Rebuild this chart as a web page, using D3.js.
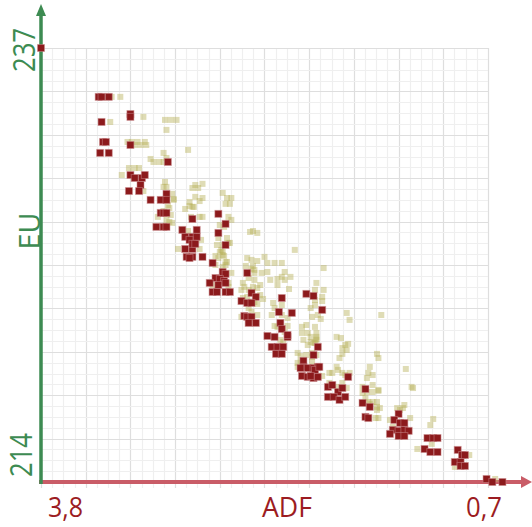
<!DOCTYPE html>
<html><head><meta charset="utf-8">
<script src="https://cdn.jsdelivr.net/npm/d3@7"></script>
<style>html,body{margin:0;padding:0;background:#fff;}svg{display:block;}</style>
</head><body>
<svg id="c" width="532" height="527"></svg>
<script>
// ---- data (ADF, EU) ----
const xDomain = [3.8, 0.7];
const yDomain = [214, 237];
const xTickLabels = ["3,8", "0,7"];
const yTickLabels = ["214", "237"];
const xTitle = "ADF";
const yTitle = "EU";

const redPoints = [
[3.80,237.00],[3.40,234.41],[3.38,234.41],[3.33,234.41],[3.18,233.50],[3.18,233.35],[3.38,233.08],
[3.37,232.02],[3.35,232.02],[3.18,231.86],[3.39,231.44],[3.33,231.44],[2.92,230.96],
[3.18,230.27],[3.15,230.11],[3.10,230.11],[3.08,230.27],[3.11,229.74],[3.19,229.42],[3.12,229.42],
[2.93,229.27],[3.04,228.95],[2.97,228.95],[2.93,228.95],[2.97,228.26],[2.95,228.26],[2.93,228.26],
[3.00,227.52],[2.95,227.52],[2.93,227.52],[2.57,228.21],[2.75,227.94],[2.52,227.68],
[2.82,227.36],[2.72,227.36],[2.75,226.99],[2.72,226.99],[2.80,226.99],[2.77,226.83],[2.57,227.20],
[2.52,226.56],[2.80,226.35],[2.75,226.35],[2.75,226.62],[2.73,226.62],[2.75,225.93],[2.79,225.93],
[2.68,225.93],[2.77,225.87],[2.61,225.61],[2.37,225.08],[2.54,225.13],[2.52,225.03],
[2.59,224.81],[2.56,224.76],[2.53,224.65],[2.63,224.55],[2.57,224.44],[2.52,224.55],
[2.61,224.07],[2.58,224.07],[2.52,224.07],[2.49,224.07],[2.34,224.02],[2.31,223.81],
[1.96,223.97],[1.91,223.86],[2.41,223.59],[2.37,223.49],[2.34,223.49],[2.13,223.75],
[2.39,222.80],[2.37,222.75],[2.34,222.75],[2.36,222.43],[2.31,222.43],[1.85,223.12],
[2.15,223.01],[2.06,222.96],[2.14,222.43],[2.13,222.11],[2.23,221.74],[2.18,221.69],
[2.09,221.69],[2.09,221.79],[2.20,221.16],[2.16,221.16],[2.12,221.16],[2.17,220.79],[2.13,220.79],
[1.88,221.16],[1.91,220.73],[1.98,220.42],[1.98,220.10],[2.00,220.04],[1.95,220.04],[1.91,220.04],
[1.88,220.10],[1.90,219.94],[1.87,220.10],[1.99,219.62],[1.95,219.57],[1.91,219.51],[1.88,219.57],
[1.93,219.62],[1.67,219.57],[1.81,219.04],[1.78,219.14],[1.74,218.77],[1.71,218.98],
[1.81,218.51],[1.77,218.51],[1.73,218.35],[1.69,218.51],[1.55,218.93],[1.57,218.19],[1.52,217.98],
[1.55,217.45],[1.53,217.39],[1.32,217.61],[1.35,217.29],[1.31,217.13],[1.28,217.13],
[1.36,216.76],[1.32,216.71],[1.28,216.76],[1.25,216.71],[1.38,216.55],[1.32,216.44],[1.28,216.44],
[1.12,216.33],[1.08,216.33],[1.05,216.33],[1.14,215.75],[1.10,215.59],[1.05,215.59],
[0.91,215.70],[0.88,215.43],[0.86,215.43],[0.93,215.06],[0.89,215.06],[0.89,214.85],[0.86,214.85],
[0.71,214.16],[0.67,214.00],[0.60,214.00]
];

const olivePoints = [
[3.31,234.41],[3.25,234.41],[3.09,233.35],[2.94,233.19],[2.90,233.19],[2.86,233.19],[2.93,232.66],
[3.32,233.08],[3.20,232.02],[3.17,232.02],[3.13,232.02],[3.08,232.02],[3.15,231.86],[3.11,231.86],
[3.07,231.86],[2.95,231.44],[2.78,231.60],[3.04,231.12],[3.02,230.96],[2.98,230.96],[2.95,230.96],
[2.93,231.17],[3.19,230.64],[3.15,230.64],[3.12,230.64],[3.24,230.27],[2.94,229.90],[2.95,229.64],
[2.93,229.64],[3.09,229.42],[2.88,229.00],[2.75,229.58],[2.71,229.58],[2.73,229.74],[2.68,229.80],
[2.89,229.27],[2.88,228.95],[2.92,228.68],[2.73,229.11],[2.68,229.05],[2.54,229.32],[2.51,229.05],
[2.48,229.05],[2.52,228.74],[2.49,228.74],[2.77,228.84],[2.70,228.89],[2.75,228.58],[2.74,228.58],
[2.80,228.47],[2.77,228.63],[2.95,228.36],[2.91,228.52],[2.99,228.05],[2.93,228.05],[2.90,228.15],
[2.93,227.73],[2.91,227.78],[2.89,227.73],[2.76,228.05],[2.70,228.05],[2.68,228.05],[2.50,228.05],
[2.48,227.89],[2.56,227.62],[2.53,227.52],[2.78,227.30],[2.69,226.83],[2.57,226.93],[2.51,226.93],
[2.50,226.67],[2.70,226.35],[2.85,226.35],[2.55,226.30],[2.54,226.19],[2.53,225.98],[2.59,225.98],
[2.57,225.87],[2.35,227.25],[2.33,227.30],[2.30,227.20],[2.52,225.66],[2.51,225.66],[2.37,225.87],
[2.34,225.77],[2.30,225.71],[2.25,225.93],[2.34,225.29],[2.32,225.08],[2.27,225.08],[2.23,225.13],
[2.52,225.50],[2.48,225.08],[2.61,224.44],[2.50,224.34],[2.39,224.34],[2.33,224.34],[2.28,224.44],
[2.58,226.56],[2.54,226.56],[2.49,226.67],[2.56,226.19],[2.54,226.03],[2.04,226.30],[2.23,225.61],
[2.59,225.50],[2.54,225.40],[2.38,225.45],[2.33,225.45],[2.32,225.24],[2.18,225.61],[2.13,225.61],
[2.11,225.13],[2.50,224.55],[2.40,224.55],[2.36,224.81],[2.32,224.71],[2.21,224.71],[2.16,224.76],
[2.13,224.87],[2.11,224.71],[2.07,224.87],[2.16,224.44],[2.08,224.23],[2.41,224.18],[2.36,224.18],
[2.30,224.28],[1.89,224.55],[1.90,224.18],[1.90,223.65],[2.37,223.81],[2.40,223.75],[2.28,223.91],
[2.26,223.70],[2.32,223.54],[2.30,223.44],[2.19,223.49],[2.13,223.38],[2.41,222.75],[2.30,222.85],
[2.34,223.01],[2.36,223.22],[1.93,223.22],[1.90,223.38],[1.88,222.85],[1.92,222.75],[2.18,223.22],
[2.13,222.85],[2.09,222.69],[1.99,222.22],[1.96,222.32],[1.95,221.90],[1.90,222.22],[2.20,222.85],
[2.18,222.27],[2.16,222.22],[2.09,222.27],[2.11,221.95],[2.12,221.42],[2.09,221.63],[2.14,221.53],
[1.89,221.58],[1.93,221.42],[1.90,221.37],[2.02,220.84],[2.00,220.36],[1.92,220.63],[1.96,220.73],
[2.02,220.31],[2.02,220.10],[1.84,225.34],[1.84,224.18],[1.85,223.81],[1.85,223.59],[1.68,222.96],
[1.66,222.59],[1.44,222.85],[1.86,222.64],[1.75,221.69],[1.72,221.63],[1.99,221.90],[1.93,221.69],
[1.89,221.90],[1.89,221.69],[1.98,221.53],[1.95,221.26],[1.91,221.37],[1.89,221.53],[2.00,220.68],
[1.92,220.84],[1.89,220.73],[1.98,220.20],[1.92,220.36],[1.92,220.10],[1.85,219.62],[1.78,219.78],
[1.69,221.26],[1.67,221.32],[1.71,221.10],[1.68,221.00],[1.71,220.79],[1.73,220.57],[1.75,220.10],
[1.74,219.94],[1.71,219.78],[1.80,219.78],[1.69,219.67],[1.66,219.78],[1.47,220.79],[1.46,220.57],
[1.52,220.10],[1.53,219.78],[1.50,219.67],[1.54,219.51],[1.27,219.99],[1.80,219.25],[1.75,219.04],
[1.68,218.98],[1.71,219.25],[1.57,219.04],[1.54,218.77],[1.50,218.77],[1.46,218.83],[1.57,218.72],
[1.55,218.45],[1.53,218.24],[1.52,218.14],[1.47,218.24],[1.45,217.92],[1.47,217.82],[1.48,217.39],
[1.38,217.29],[1.29,217.92],[1.28,218.08],[1.31,217.82],[1.36,216.92],[1.50,219.14],[1.46,218.88],
[1.23,219.04],[1.47,217.98],[1.50,218.24],[1.46,217.39],[1.33,217.92],[1.24,217.39],[1.30,216.71],
[1.10,217.02],[1.08,217.34],[1.09,216.02],[1.19,215.75],[0.83,215.43],[0.93,214.80],[0.65,214.16],
[1.22,218.98]
];

// ---- drawing ----
const svg = d3.select("#c");
const pLeft = 41, pRight = 488, pTop = 48, pBottom = 482;
const x = d3.scaleLinear().domain(xDomain).range([pLeft, pRight]);
const y = d3.scaleLinear().domain(yDomain).range([pBottom, pTop]);

const green = "#3d8b52", red = "#9c1c22";
const font = "'Open Sans', 'Noto Sans', sans-serif";

// grid
const nx = 40, ny = 40;
const gx = d3.range(0, nx + 1).map(i => ({v: xDomain[0] + i * (xDomain[1] - xDomain[0]) / nx, major: i % 4 === 0}));
const gy = d3.range(0, ny + 1).map(i => ({v: yDomain[0] + i * (yDomain[1] - yDomain[0]) / ny, major: i % 4 === 0}));
const grid = svg.append("g");
grid.selectAll("line.gx").data(gx).join("line")
  .attr("x1", d => Math.round(x(d.v)) + 0.5).attr("x2", d => Math.round(x(d.v)) + 0.5)
  .attr("y1", pTop).attr("y2", pBottom + 6)
  .attr("stroke", d => d.major ? "#dedede" : "#efefef").attr("stroke-width", 1.2);
grid.selectAll("line.gy").data(gy).join("line")
  .attr("y1", d => Math.round(y(d.v)) + 0.5).attr("y2", d => Math.round(y(d.v)) + 0.5)
  .attr("x1", pLeft).attr("x2", pRight)
  .attr("stroke", d => d.major ? "#dedede" : "#efefef").attr("stroke-width", 1.2);

// axes
svg.append("line").attr("x1", pLeft - 2).attr("x2", 522).attr("y1", pBottom).attr("y2", pBottom)
  .attr("stroke", "#c95c67").attr("stroke-width", 4);
svg.append("path").attr("d", `M521,476 L532,482 L521,488 Z`).attr("fill", "#c95c67");
svg.append("line").attr("x1", pLeft).attr("x2", pLeft).attr("y1", pBottom + 2).attr("y2", 14)
  .attr("stroke", green).attr("stroke-width", 3.5);
svg.append("path").attr("d", `M36,16 L41,4 L46,16 Z`).attr("fill", green);

// points
svg.append("g").selectAll("rect").data(olivePoints).join("rect")
  .attr("x", d => x(d[0]) - 3).attr("y", d => y(d[1]) - 3)
  .attr("width", 6).attr("height", 6)
  .attr("fill", "#b9b25a").attr("fill-opacity", 0.45);

svg.append("g").selectAll("rect").data(redPoints).join("rect")
  .attr("x", d => x(d[0]) - 3.5).attr("y", d => y(d[1]) - 3.5)
  .attr("width", 7).attr("height", 7)
  .attr("fill", "#8c1a1c")
  .attr("stroke", "#c9898b").attr("stroke-opacity", 0.5).attr("stroke-width", 1);

// labels
function label(txt, tx, ty, rot, anchor, color, len, size) {
  svg.append("text").text(txt)
    .attr("transform", `translate(${tx},${ty}) rotate(${rot})`)
    .attr("text-anchor", anchor)
    .attr("font-family", font).attr("font-size", size)
    .attr("fill", color)
    .attr("textLength", len).attr("lengthAdjust", "spacingAndGlyphs");
}
label(yTickLabels[1], 35, y(yDomain[1]) + 2, -90, "middle", green, 44, 31);
label(yTickLabels[0], 32, 455, -90, "middle", green, 44, 31);
label(yTitle, 40, 231, -90, "middle", green, 37, 30);
label(xTickLabels[0], 48, 517, 0, "start", red, 35, 28);
label(xTickLabels[1], 502, 517, 0, "end", red, 36, 28);
label(xTitle, 287, 517, 0, "middle", red, 50, 28);
</script>
</body></html>
